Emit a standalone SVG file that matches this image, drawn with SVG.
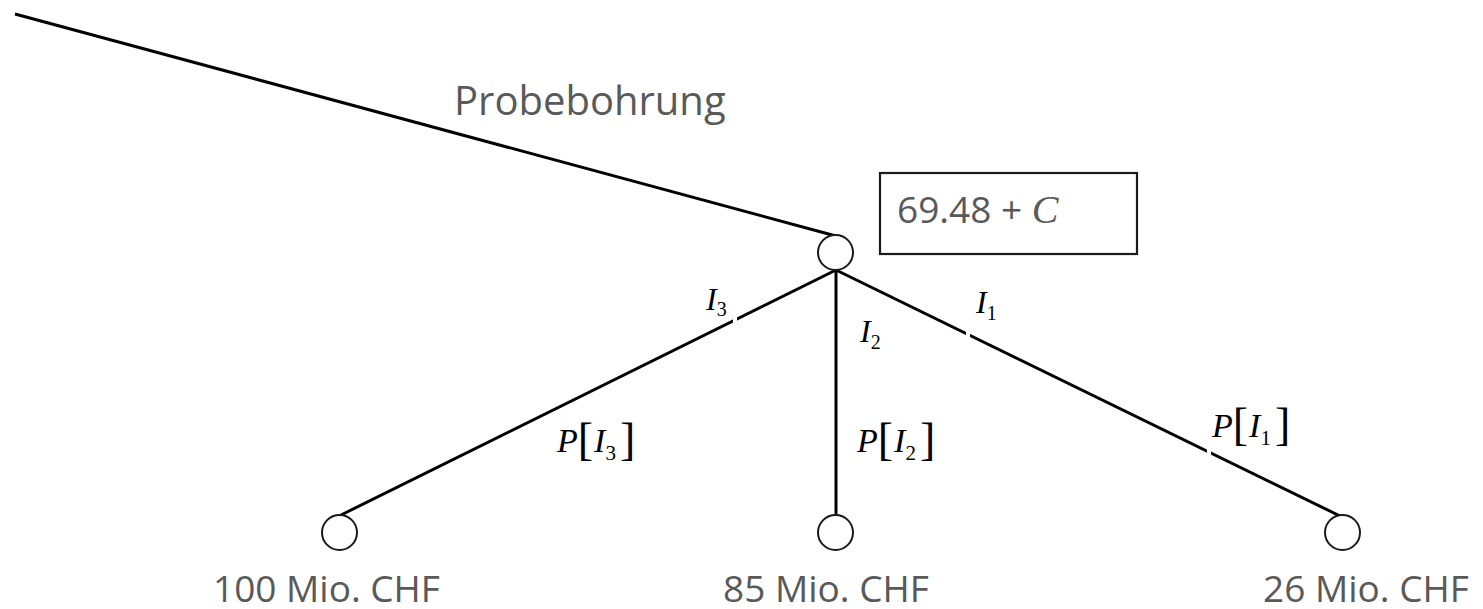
<svg xmlns="http://www.w3.org/2000/svg" width="1483" height="609" viewBox="0 0 1483 609">
<style>
.edge{stroke:#000;stroke-width:3;fill:none;stroke-linecap:butt}
.node{fill:#fff;stroke:#1a1a1a;stroke-width:2}
.lbl{font-family:"Open Sans","Liberation Sans",sans-serif;fill:#595959}
.leaf{font-size:37px}
.m{font-family:"Liberation Serif","Times New Roman",serif;font-style:italic;fill:#000}
.s{font-family:"Liberation Serif","Times New Roman",serif;font-style:normal;fill:#000}
.gap{fill:#fff}
</style>
<rect width="1483" height="609" fill="#fff"/>
<g id="connectors">
<line class="edge" x1="15" y1="14" x2="836" y2="236"/>
<line class="edge" x1="836" y1="270" x2="339" y2="516"/>
<line class="edge" x1="836" y1="270" x2="836" y2="516"/>
<line class="edge" x1="836" y1="270" x2="1340" y2="516"/>
<rect class="gap" x="733" y="317" width="4" height="6"/>
<rect class="gap" x="966" y="332" width="4" height="6"/>
<rect class="gap" x="1207" y="449" width="4" height="6"/>
</g>
<g id="edge-label-probebohrung"><text class="lbl" x="454" y="115" font-size="40">Probebohrung</text></g>
<g id="root">
<circle class="node" cx="835.5" cy="252.5" r="17.5"/>
<rect x="880" y="173" width="257" height="81" fill="#fff" stroke="#1a1a1a" stroke-width="2.2"/>
<text class="lbl" x="897" y="223" font-size="37">69.48 + <tspan font-family="Liberation Serif,serif" font-style="italic" font-size="40">C</tspan></text>
</g>
<g id="leaf-1">
<circle class="node" cx="339.5" cy="532.5" r="17.5"/>
<text class="lbl leaf" x="213" y="602">100 Mio. CHF</text>
</g>
<g id="leaf-2">
<circle class="node" cx="835.5" cy="532.5" r="17.5"/>
<text class="lbl leaf" x="723" y="602">85 Mio. CHF</text>
</g>
<g id="leaf-3">
<circle class="node" cx="1342.5" cy="532.5" r="17.5"/>
<text class="lbl leaf" x="1263" y="602">26 Mio. CHF</text>
</g>
<g id="edge-labels">
<text class="m" x="706" y="310" font-size="32">I<tspan class="s" font-size="20" dx="0" dy="6">3</tspan></text>
<text class="m" x="860" y="342" font-size="32">I<tspan class="s" font-size="20" dx="0" dy="7">2</tspan></text>
<text class="m" x="976" y="313" font-size="32">I<tspan class="s" font-size="20" dx="0" dy="7">1</tspan></text>
<text class="m" x="557" y="452" font-size="34">P<tspan class="s" font-size="46" dy="3">[</tspan><tspan dx="1" dy="-3">I</tspan><tspan class="s" font-size="21" dy="8">3</tspan><tspan class="s" font-size="46" dx="4" dy="-5">]</tspan></text>
<text class="m" x="857" y="452" font-size="34">P<tspan class="s" font-size="46" dy="3">[</tspan><tspan dx="1" dy="-3">I</tspan><tspan class="s" font-size="21" dy="8">2</tspan><tspan class="s" font-size="46" dx="4" dy="-5">]</tspan></text>
<text class="m" x="1212" y="437" font-size="34">P<tspan class="s" font-size="46" dy="3">[</tspan><tspan dx="1" dy="-3">I</tspan><tspan class="s" font-size="21" dy="8">1</tspan><tspan class="s" font-size="46" dx="4" dy="-5">]</tspan></text>
</g>
</svg>
